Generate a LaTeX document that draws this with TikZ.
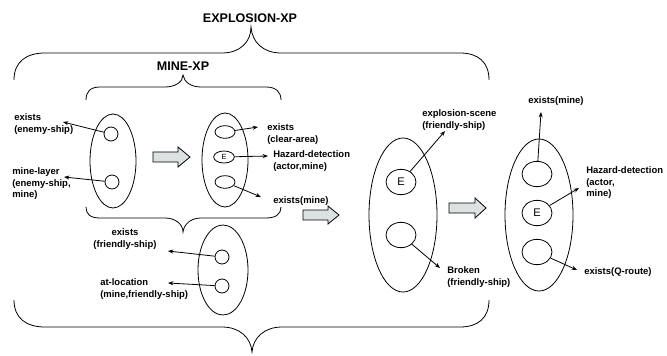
\documentclass[tikz,border=0pt]{standalone}
\usepackage{fontspec}
\setmainfont{Liberation Sans}
\usetikzlibrary{shapes.geometric,arrows.meta}
\definecolor{blockgray}{HTML}{DCE2E2}
\tikzset{
  px/.style={x=0.75pt,y=-0.75pt},
  line/.style={line width=0.6pt,black},
  bigell/.style={draw,line width=0.6pt,ellipse,inner sep=0pt},
  smallc/.style={draw,line width=0.6pt,ellipse,inner sep=0pt,minimum width=10.5pt,minimum height=10.5pt},
  midc/.style={draw,line width=0.6pt,ellipse,inner sep=0pt,minimum width=22.5pt,minimum height=19pt,font=\fontsize{8.3}{10}\selectfont},
  lbl/.style={inner sep=0pt,align=left,font=\fontsize{7.1}{8.6}\selectfont\bfseries},
  ttl/.style={inner sep=0pt,font=\fontsize{9.4}{11}\selectfont\bfseries},
  arr/.style={line width=0.6pt,-{Stealth[length=4pt,width=3pt]}},
  brace/.style={line width=0.6pt},
  blockarrow/.style={draw,line width=0.6pt,fill=blockgray},
}
\begin{document}
\begin{tikzpicture}[px]
\useasboundingbox (0,0) rectangle (667,356);

% titles
\node[ttl] (t1) at (250,18) {EXPLOSION-XP};
\node[ttl] (t2) at (183,66) {MINE-XP};

% big top brace
\draw[brace] (14,80) .. controls (14,62) and (26,53) .. (45,53) -- (222,53)
  .. controls (240,53) and (251,42) .. (251,27)
  .. controls (252,42) and (263,53) .. (281,53) -- (460,53)
  .. controls (478,53) and (489,62) .. (489,80);
% big bottom brace
\draw[brace] (14,300) .. controls (14,318) and (26,327) .. (45,327) -- (222,327)
  .. controls (240,327) and (251,338) .. (252,352)
  .. controls (253,338) and (264,327) .. (282,327) -- (460,327)
  .. controls (478,327) and (489,318) .. (489,300);
% MINE-XP top brace
\draw[brace] (86,100) .. controls (86,92) and (90,87) .. (100,87) -- (165,87)
  .. controls (175,87) and (183,82) .. (183,75)
  .. controls (184,82) and (191,87) .. (201,87) -- (266,87)
  .. controls (276,87) and (281,92) .. (281,100);
% MINE-XP bottom brace
\draw[brace] (86,207) .. controls (86,214) and (90,218) .. (100,218) -- (165,218)
  .. controls (175,218) and (183,224) .. (183,232)
  .. controls (184,224) and (191,218) .. (201,218) -- (266,218)
  .. controls (276,218) and (281,214) .. (281,207);

% ellipse 1
\node[bigell,minimum width=34.5pt,minimum height=70.5pt] (e1) at (113,161) {};
\node[smallc] (e1a) at (111,134) {};
\node[smallc] (e1b) at (112,182) {};
\node[lbl,anchor=west] (l1) at (14,124) {exists\\(enemy-ship)};
\node[lbl,anchor=west] (l2) at (12,184) {mine-layer\\(enemy-ship,\\mine)};
\coordinate (a1) at (63,122);
\coordinate (a2) at (64,177);
\draw[arr] (e1a) -- (a1);
\draw[arr] (e1b) -- (a2);

% block arrow 1
\draw[blockarrow] (153,152) -- (178,152) -- (178,147) -- (190,157) -- (178,167) -- (178,162) -- (153,162) -- cycle;

% ellipse 2
\node[bigell,minimum width=34.5pt,minimum height=70.5pt] (e2) at (225,160) {};
\node[draw,line width=0.6pt,ellipse,inner sep=0pt,minimum width=15pt,minimum height=9.5pt] (e2a) at (225,132) {};
\node[draw,line width=0.6pt,ellipse,inner sep=0pt,minimum width=15.5pt,minimum height=9pt,font=\fontsize{5.6}{6}\selectfont] (e2b) at (224,157) {E};
\node[draw,line width=0.6pt,ellipse,inner sep=0pt,minimum width=15pt,minimum height=9.5pt] (e2c) at (225,182) {};
\node[lbl,anchor=west] (l3) at (267,134) {exists\\(clear-area)};
\node[lbl,anchor=west] (l4) at (273,161) {Hazard-detection\\(actor,mine)};
\node[lbl,anchor=west] (l5) at (273,201) {exists(mine)};
\coordinate (a3) at (258,127);
\coordinate (a4) at (268,156);
\coordinate (a5) at (261,197);
\draw[arr] (e2a) -- (a3);
\draw[arr] (e2b) -- (a4);
\draw[arr] (e2c) -- (a5);

% ellipse 3
\node[bigell,minimum width=37.5pt,minimum height=67.5pt] (e3) at (223,270) {};
\node[smallc] (e3a) at (222,257) {};
\node[smallc] (e3b) at (222,286) {};
\node[lbl,align=center] (l6) at (125,239) {exists\\(friendly-ship)};
\node[lbl,anchor=west] (l7) at (100,289) {at-location\\(mine,friendly-ship)};
\coordinate (a6) at (168,251);
\coordinate (a7) at (168,283);
\draw[arr] (e3a) -- (a6);
\draw[arr] (e3b) -- (a7);

% block arrow 2
\draw[blockarrow] (303,210) -- (328,210) -- (328,206) -- (339,215) -- (328,224) -- (328,220) -- (303,220) -- cycle;

% ellipse 4
\node[bigell,minimum width=51pt,minimum height=115.5pt] (e4) at (403,215) {};
\node[midc] (e4a) at (401,182) {E};
\node[midc] (e4b) at (401,235) {};
\node[lbl,anchor=west] (l8) at (422,120) {explosion-scene\\(friendly-ship)};
\node[lbl,anchor=west] (l9) at (447,277) {Broken\\(friendly-ship)};
\coordinate (a8) at (445,131);
\coordinate (a9) at (440,268);
\draw[arr] (e4a) -- (a8);
\draw[arr] (e4b) -- (a9);

% block arrow 3
\draw[blockarrow] (449,203) -- (475,203) -- (475,198) -- (486,208) -- (475,218) -- (475,213) -- (449,213) -- cycle;

% ellipse 5
\node[bigell,minimum width=51pt,minimum height=114pt] (e5) at (539,215) {};
\node[midc] (e5a) at (537,174) {};
\node[midc] (e5b) at (537,213) {E};
\node[midc] (e5c) at (537,252) {};
\node[lbl] (l10) at (556,101) {exists(mine)};
\node[lbl,anchor=west] (l11) at (586,183) {Hazard-detection\\(actor,\\mine)};
\node[lbl,anchor=west] (l12) at (584,272) {exists(Q-route)};
\coordinate (a10) at (541,112);
\coordinate (a11) at (579,188);
\coordinate (a12) at (577,270);
\draw[arr] (e5a) -- (a10);
\draw[arr] (e5b) -- (a11);
\draw[arr] (e5c) -- (a12);
\end{tikzpicture}
\end{document}
